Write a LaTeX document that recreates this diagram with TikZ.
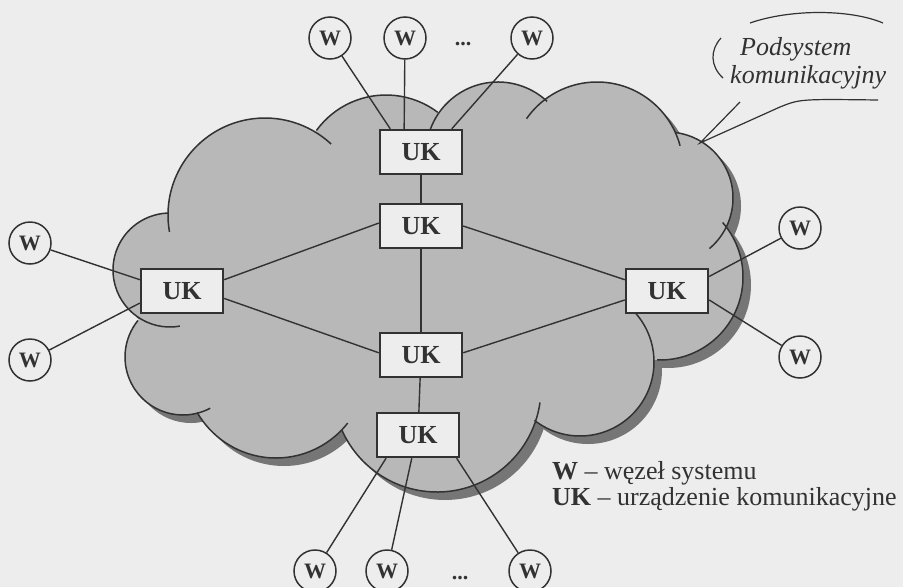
\documentclass[tikz,border=0pt]{standalone}
\usepackage{fontspec}
\setmainfont{Liberation Serif}
\definecolor{paper}{RGB}{237,237,237}
\definecolor{cloudgray}{RGB}{184,184,184}
\definecolor{shadowgray}{RGB}{118,118,118}
\definecolor{ink}{RGB}{50,50,50}
\newcommand{\cloudbumps}{265/215/97/170/313, 386/181/86/216/307, 498/154/72/195/313,
  597/168/86/215/345, 667/198/66/277/410, 660/277/83/319/452, 580/362/74/315/488,
  437/388/104/8/156, 276/367/91/38/150, 183/357/58/62/219, 170/270/57/80/268}
\tikzset{
  uk/.style = {draw=ink, line width=2.4pt, fill=paper, text=ink,
    minimum width=82pt, minimum height=44pt, inner sep=0pt,
    font=\fontsize{26}{26}\selectfont\bfseries},
  wnode/.style = {circle, draw=ink, line width=1.5pt, fill=paper, text=ink,
    minimum size=42pt, inner sep=0pt, font=\fontsize{22}{22}\selectfont\bfseries},
  etc/.style = {text=ink, inner sep=0pt, font=\fontsize{22}{22}\selectfont\bfseries},
  link/.style = {draw=ink, line width=1.4pt},
  rim/.style = {draw=ink, line width=1.5pt},
  legendtext/.style = {anchor=base west, inner sep=0pt, text=ink,
    font=\fontsize{26}{26}\selectfont},
  bubbletext/.style = {anchor=base west, inner sep=0pt, text=ink,
    font=\fontsize{26}{26}\selectfont\itshape}
}
\begin{document}
\begin{tikzpicture}[x=1pt,y=-1pt]
  \pgfmathsetmacro{\shx}{8}
  \pgfmathsetmacro{\shy}{8}
  \useasboundingbox (0,0) rectangle (903,587);
  \fill[paper] (0,0) rectangle (903,587);
  \begin{scope}[shift={(\shx,\shy)}]
    \fill[shadowgray] (265,215) -- (386,181) -- (498,154) -- (597,168) -- (667,198) -- (660,277) -- (580,362) -- (437,388) -- (276,367) -- (183,357) -- (170,270) -- cycle;
    \foreach \cx/\cy/\r/\a/\b in \cloudbumps
      \fill[shadowgray] (\cx,\cy) circle[radius=\r];
  \end{scope}
  \fill[cloudgray] (265,215) -- (386,181) -- (498,154) -- (597,168) -- (667,198) -- (660,277) -- (580,362) -- (437,388) -- (276,367) -- (183,357) -- (170,270) -- cycle;
  \foreach \cx/\cy/\r/\a/\b in \cloudbumps
    \fill[cloudgray] (\cx,\cy) circle[radius=\r];
  \foreach \cx/\cy/\r/\a/\b in \cloudbumps
    \draw[rim] (\cx,\cy) ++(\a:\r) arc[start angle=\a, end angle=\b, radius=\r];

  \node[uk] (ukt) at (421,152) {UK};
  \node[uk] (uka) at (421,226) {UK};
  \node[uk] (ukb) at (421,355) {UK};
  \node[uk] (ukd) at (418,435) {UK};
  \node[uk] (ukl) at (182,291) {UK};
  \node[uk] (ukr) at (667,291) {UK};

  \node[wnode] (wt1) at (330,38) {W};
  \node[wnode] (wt2) at (405,38) {W};
  \node[wnode] (wt3) at (532,38) {W};
  \node[etc] (etctop) at (463,44) {...};
  \node[wnode] (wl1) at (30,243) {W};
  \node[wnode] (wl2) at (30,360) {W};
  \node[wnode] (wr1) at (800,228) {W};
  \node[wnode] (wr2) at (800,357) {W};
  \node[wnode] (wb1) at (315,571) {W};
  \node[wnode] (wb2) at (387,571) {W};
  \node[wnode] (wb3) at (530,571) {W};
  \node[etc] (etcbot) at (460,578) {...};

  \draw[link] (ukt) -- (uka);
  \draw[link] (uka) -- (ukb);
  \draw[link] (ukb) -- (ukd);
  \draw[link] (uka.176) -- (ukl.15);
  \draw[link] (uka.0) -- (ukr.165);
  \draw[link] (ukb.177) -- (ukl.350);
  \draw[link] (ukb.3) -- (ukr.192);
  \draw[link] (wt1) -- (ukt.143);
  \draw[link] (wt2) -- (ukt.126);
  \draw[link] (wt3) -- (ukt.37);
  \draw[link] (wl1) -- (ukl.165);
  \draw[link] (wl2) -- (ukl.196);
  \draw[link] (wr1) -- (ukr.19);
  \draw[link] (wr2) -- (ukr.348);
  \draw[link] (wb1) -- (ukd.216);
  \draw[link] (wb2) -- (ukd.255);
  \draw[link] (wb3) -- (ukd.329);

  \coordinate (tip) at (700,143);
  \node[bubbletext] (podsys) at (740,55) {Podsystem};
  \node[bubbletext] (komun) at (730,83) {komunikacyjny};
  \draw[rim, line width=1.2pt] (750,23) .. controls (790,9) and (850,9) .. (883,23);
  \draw[rim, line width=1.2pt] (721,38) .. controls (710,50) and (710,66) .. (723,78);
  \draw[rim, line width=1.2pt] (740,102) -- (tip) -- (780,107) .. controls (800,99) .. (878,100);

  \node[legendtext] (legw) at (552,479) {\textbf{W} -- węzeł systemu};
  \node[legendtext] (leguk) at (552,505) {\textbf{UK} -- urządzenie komunikacyjne};
\end{tikzpicture}
\end{document}
